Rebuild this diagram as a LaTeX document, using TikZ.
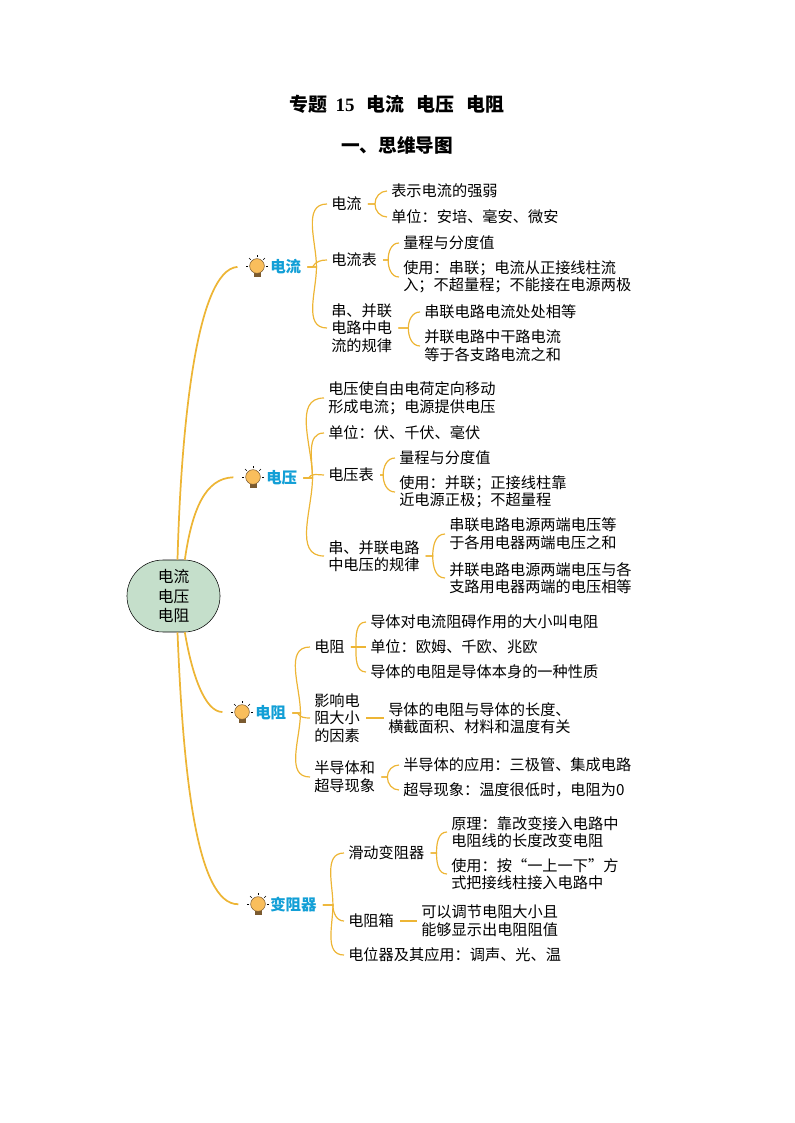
\documentclass[tikz,border=0pt]{standalone}
\usepackage{fontspec}
\setmainfont{Noto Sans CJK SC}
\newfontfamily\latinbold{Liberation Serif}[BoldFont={Liberation Serif Bold}]
\definecolor{twigcolor}{HTML}{EDB535}
\definecolor{rootfill}{HTML}{C5DFCB}
\definecolor{headblue}{HTML}{129FD6}
\definecolor{bulbfill}{HTML}{F9BE5C}
\definecolor{bulbbase}{HTML}{7A5A30}
\tikzset{
    item/.style={anchor=west, align=left, inner xsep=3pt, inner ysep=1pt, yshift=-0.75pt, font=\fontsize{11.4}{13.2}\selectfont},
    head/.style={anchor=west, inner xsep=3pt, inner ysep=1pt, yshift=-0.75pt, text=headblue, font=\fontsize{11.6}{13}\selectfont\bfseries},
    twig/.style={draw=twigcolor, line width=0.9pt, shorten <=1.5pt},
    bough/.style={draw=twigcolor, line width=1.3pt, shorten >=9pt},
    bulb/.style={circle, draw=bulbbase, line width=0.4pt, fill=bulbfill, minimum size=11pt, inner sep=0pt},
}
% bracket from a parent to a child
\newcommand{\twig}[4]{\draw[twig] (#1.east) -- ++(#2,0) to[out=#3, in=180] (#4.west);}
\begin{document}
\begin{tikzpicture}[x=0.75pt, y=-0.75pt]
    \useasboundingbox (0,0) rectangle (794,1123);
    % Titles
    \node [font=\fontsize{14.2}{16}\selectfont\bfseries] (title) at (397,104) {专题\hspace{6pt}{\latinbold 15}\hspace{9pt}电流\hspace{9pt}电压\hspace{9pt}电阻};
    \node [font=\fontsize{14}{16}\selectfont\bfseries] (subtitle) at (397,145) {一、思维导图};
    % Root
    \node [draw, fill=rootfill, rounded corners=27pt, minimum width=69.8pt, minimum height=54pt,
        align=center, inner sep=0pt, font=\fontsize{11.8}{14.4}\selectfont] (root) at (173.5,596) {电流\\电压\\电阻};
    % Bulbs
    \foreach \nm/\px/\py in {bulbI/257/266, bulbU/253/477, bulbR/242/712, bulbV/258/904} {
        \fill [bulbbase] (\px-3.5,\py+6) rectangle (\px+3.5,\py+11);
        \node [bulb] (\nm) at (\px,\py) {};
        \foreach \ang in {0,45,90,135,180}
            \draw [line width=0.4pt] (\nm) ++(\ang:6.6pt) -- ++(\ang:1.8pt);
    }
    % Heads
    \node [head] (headI) at (266,266) {电流};
    \node [head] (headU) at (262,477) {电压};
    \node [head] (headR) at (251,712) {电阻};
    \node [head] (headV) at (266,904) {变阻器};
    % Main boughs
    \draw [bough] ([xshift=3pt]root.north) .. controls (181,430) and (196,270) .. (bulbI.west);
    \draw [bough] ([xshift=8.5pt]root.north) .. controls (192,510) and (205,478) .. (bulbU.west);
    \draw [bough] ([xshift=8.5pt]root.south) .. controls (192,675) and (205,712) .. (bulbR.west);
    \draw [bough] ([xshift=3pt]root.south) .. controls (183,770) and (196,905) .. (bulbV.west);
    % Current
    \node [item] (curA) at (327,203) {电流};
    \node [item] (curB) at (327,259) {电流表};
    \node [item] (curC) at (327,327) {串、并联\\电路中电\\流的规律};
    \node [item] (curA1) at (387,190) {表示电流的强弱};
    \node [item] (curA2) at (387,216) {单位：安培、毫安、微安};
    \node [item] (curB1) at (399,242) {量程与分度值};
    \node [item] (curB2) at (399,276) {使用：串联；电流从正接线柱流\\入；不超量程；不能接在电源两极};
    \node [item] (curC1) at (420,311) {串联电路电流处处相等};
    \node [item] (curC2) at (420,345) {并联电路中干路电流\\等于各支路电流之和};
    \twig{headI}{11}{90}{curA}
    \twig{headI}{7}{60}{curB}
    \twig{headI}{11}{-90}{curC}
    \twig{curA}{9}{90}{curA1}
    \twig{curA}{9}{-90}{curA2}
    \twig{curB}{7}{90}{curB1}
    \twig{curB}{7}{-90}{curB2}
    \twig{curC}{12}{90}{curC1}
    \twig{curC}{12}{-90}{curC2}
    % Voltage
    \node [item] (volA) at (324,397) {电压使自由电荷定向移动\\形成电流；电源提供电压};
    \node [item] (volB) at (324,432) {单位：伏、千伏、毫伏};
    \node [item] (volC) at (324,474) {电压表};
    \node [item] (volD) at (324,555) {串、并联电路\\中电压的规律};
    \node [item] (volC1) at (395,457) {量程与分度值};
    \node [item] (volC2) at (395,491) {使用：并联；正接线柱靠\\近电源正极；不超量程};
    \node [item] (volD1) at (445,533) {串联电路电源两端电压等\\于各用电器两端电压之和};
    \node [item] (volD2) at (445,577) {并联电路电源两端电压与各\\支路用电器两端的电压相等};
    \twig{headU}{11}{90}{volA}
    \twig{headU}{11}{90}{volB}
    \twig{headU}{7}{60}{volC}
    \twig{headU}{11}{-90}{volD}
    \twig{volC}{5}{90}{volC1}
    \twig{volC}{5}{-90}{volC2}
    \twig{volD}{9}{90}{volD1}
    \twig{volD}{9}{-90}{volD2}
    % Resistance
    \node [item] (resA) at (310,646) {电阻};
    \node [item] (resB) at (310,717) {影响电\\阻大小\\的因素};
    \node [item] (resC) at (310,776) {半导体和\\超导现象};
    \node [item] (resA1) at (366,621) {导体对电流阻碍作用的大小叫电阻};
    \node [item] (resA2) at (366,646) {单位：欧姆、千欧、兆欧};
    \node [item] (resA3) at (366,671) {导体的电阻是导体本身的一种性质};
    \node [item] (resB1) at (384,717) {导体的电阻与导体的长度、\\横截面积、材料和温度有关};
    \node [item] (resC1) at (399,764) {半导体的应用：三极管、集成电路};
    \node [item] (resC2) at (399,789) {超导现象：温度很低时，电阻为0};
    \twig{headR}{10}{90}{resA}
    \twig{headR}{7}{-60}{resB}
    \twig{headR}{10}{-90}{resC}
    \twig{resA}{7}{90}{resA1}
    \draw [twig] (resA.east) -- (resA2.west);
    \twig{resA}{7}{-90}{resA3}
    \draw [twig] (resB.east) -- (resB1.west);
    \twig{resC}{8}{90}{resC1}
    \twig{resC}{8}{-90}{resC2}
    % Rheostat
    \node [item] (rheA) at (344,852) {滑动变阻器};
    \node [item] (rheB) at (344,920) {电阻箱};
    \node [item] (rheC) at (344,954) {电位器及其应用：调声、光、温};
    \node [item] (rheA1) at (447,831) {原理：靠改变接入电路中\\电阻线的长度改变电阻};
    \node [item] (rheA2) at (447,873) {使用：按“一上一下”方\\式把接线柱接入电路中};
    \node [item] (rheB1) at (417,920) {可以调节电阻大小且\\能够显示出电阻阻值};
    \twig{headV}{12}{90}{rheA}
    \twig{headV}{12}{-90}{rheB}
    \twig{headV}{12}{-90}{rheC}
    \twig{rheA}{8}{90}{rheA1}
    \twig{rheA}{8}{-90}{rheA2}
    \draw [twig] (rheB.east) -- (rheB1.west);
\end{tikzpicture}
\end{document}
